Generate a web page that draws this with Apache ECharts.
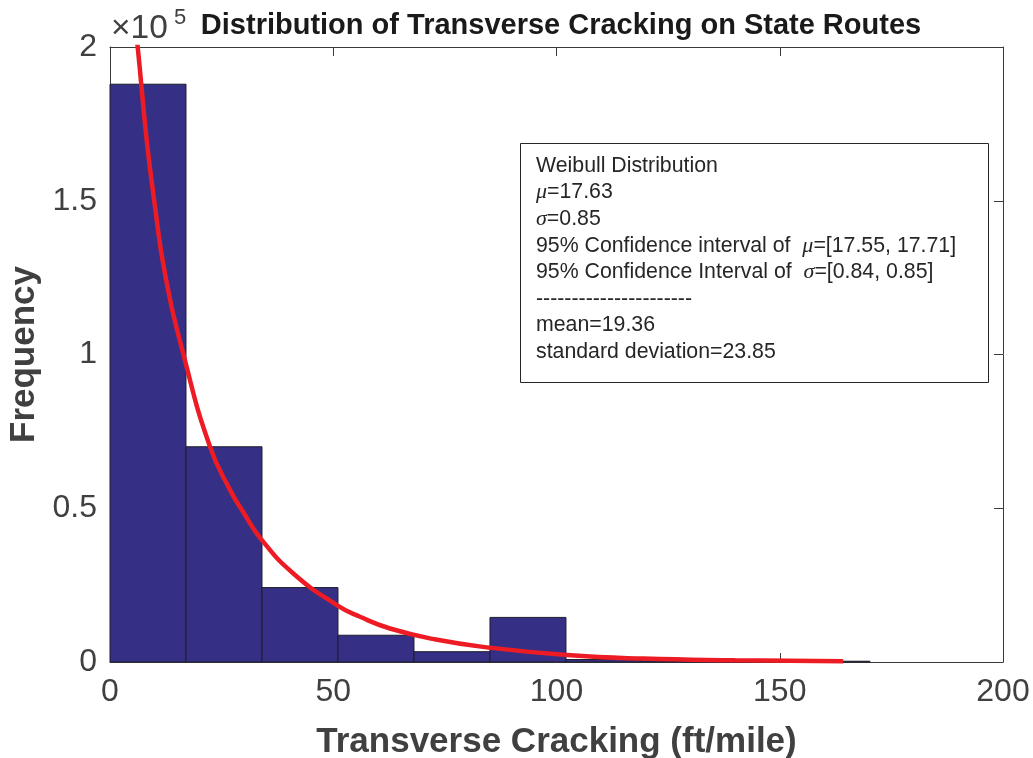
<!DOCTYPE html>
<html>
<head>
<meta charset="utf-8">
<title>Distribution of Transverse Cracking on State Routes</title>
<script src="https://cdn.jsdelivr.net/npm/echarts@6/dist/echarts.min.js"></script>
<style>
  html, body { margin: 0; padding: 0; background: #ffffff; }
  #chart { width: 1033px; height: 758px; }
</style>
</head>
<body>
<div id="chart"></div>
<script>
// Histogram bins (ft/mile) and the counts that fall in each bin
const binEdges = [0, 17.02, 34.04, 51.06, 68.08, 85.10, 102.12, 119.14, 136.16, 153.18, 170.2];
const binCounts = [187900, 70000, 24200, 8700, 3350, 14500, 800, 400, 150, 250];

// Fitted Weibull curve, scaled to the histogram counts
const fitX = [5.5, 6.2, 8.21, 10.08, 12.3, 16.57, 22.4, 26.9, 30, 33.98, 41.05, 50.8, 56, 62.7, 73, 85.1, 102.3, 119.4, 140, 164.2];
const fitY = [208000, 200000, 169800, 148100, 126400, 99300, 70000, 55900, 48400, 39700, 28800, 18500, 14700, 10900, 7300, 4650, 2280, 1100, 550, 250];

// Axis ticks
const xTicks = [0, 50, 100, 150, 200];
const yTicks = [0, 50000, 100000, 150000, 200000];

// Lines of the fit summary box: [prefix, greek symbol, suffix]
const summaryLines = [
  ['Weibull Distribution', '', ''],
  ['', 'μ', '=17.63'],
  ['', 'σ', '=0.85'],
  ['95% Confidence interval of  ', 'μ', '=[17.55, 17.71]'],
  ['95% Confidence Interval of  ', 'σ', '=[0.84, 0.85]'],
  ['----------------------', '', ''],
  ['mean=19.36', '', ''],
  ['standard deviation=23.85', '', '']
];

const FONT = '"Liberation Sans", Arial, Helvetica, sans-serif';
const AXIS_COLOR = '#3a3a3a';
const TEXT_COLOR = '#404040';

const histData = binCounts.map((c, i) => [binEdges[i], binEdges[i + 1], c]);
const fitData = fitX.map((x, i) => [x, fitY[i]]);

const grid = { left: 110, right: 30, top: 47, bottom: 96, containLabel: false, outerBoundsMode: 'none' };

function richLine(parts) {
  let s = '';
  if (parts[0]) s += '{n|' + parts[0] + '}';
  if (parts[1]) s += '{g|' + parts[1] + '}';
  if (parts[2]) s += '{n|' + parts[2] + '}';
  return s;
}

const boxLeft = 520, boxTop = 143, boxW = 468, boxH = 239;
const lineGap = 26.6;

const graphics = [
  {
    type: 'rect',
    shape: { x: boxLeft + 0.5, y: boxTop + 0.5, width: boxW, height: boxH },
    style: { fill: '#ffffff', stroke: '#262626', lineWidth: 1 },
    z: 10
  },
  // axis exponent: ×10^5
  {
    type: 'text',
    x: 111, y: 29,
    style: { text: '×10', fontFamily: FONT, fontSize: 33.5, fill: TEXT_COLOR, verticalAlign: 'middle' },
    z: 10
  },
  {
    type: 'text',
    x: 174, y: 18,
    style: { text: '5', fontFamily: FONT, fontSize: 22, fill: TEXT_COLOR, verticalAlign: 'middle' },
    z: 10
  }
];

summaryLines.forEach((parts, i) => {
  graphics.push({
    type: 'text',
    x: 536,
    y: 166 + i * lineGap,
    style: {
      text: richLine(parts),
      verticalAlign: 'middle',
      rich: {
        n: { fontFamily: FONT, fontSize: 21.3, fill: '#262626' },
        g: { fontFamily: '"Liberation Serif", "DejaVu Serif", serif', fontStyle: 'italic', fontSize: 22, fill: '#262626' }
      }
    },
    z: 11
  });
});

const option = {
  animation: false,
  backgroundColor: '#ffffff',
  title: {
    text: 'Distribution of Transverse Cracking on State Routes',
    left: 556, top: 6, textAlign: 'center',
    textStyle: { fontFamily: FONT, fontWeight: 'bold', fontSize: 29, color: '#1a1a1a' }
  },
  grid: grid,
  xAxis: [
    {
      type: 'value', min: xTicks[0], max: xTicks[xTicks.length - 1], interval: 50,
      position: 'bottom',
      name: 'Transverse Cracking (ft/mile)', nameLocation: 'middle', nameGap: 63,
      nameTextStyle: { fontFamily: FONT, fontWeight: 'bold', fontSize: 35, color: TEXT_COLOR },
      axisLine: { show: true, lineStyle: { color: AXIS_COLOR, width: 1 } },
      axisTick: { show: true, inside: true, length: 9, lineStyle: { color: AXIS_COLOR } },
      axisLabel: { fontFamily: FONT, fontSize: 32, color: TEXT_COLOR, margin: 14 },
      splitLine: { show: false }
    },
    {
      type: 'value', min: xTicks[0], max: xTicks[xTicks.length - 1], interval: 50,
      position: 'top',
      axisLine: { show: true, onZero: false, lineStyle: { color: AXIS_COLOR, width: 1 } },
      axisTick: { show: true, inside: true, length: 9, lineStyle: { color: AXIS_COLOR } },
      axisLabel: { show: false },
      splitLine: { show: false }
    }
  ],
  yAxis: [
    {
      type: 'value', min: yTicks[0], max: yTicks[yTicks.length - 1], interval: 50000,
      position: 'left',
      name: 'Frequency', nameLocation: 'middle', nameGap: 66,
      nameTextStyle: { fontFamily: FONT, fontWeight: 'bold', fontSize: 35, color: TEXT_COLOR },
      axisLine: { show: true, lineStyle: { color: AXIS_COLOR, width: 1 } },
      axisTick: { show: true, inside: true, length: 9, lineStyle: { color: AXIS_COLOR } },
      axisLabel: {
        fontFamily: FONT, fontSize: 32, color: TEXT_COLOR, margin: 13,
        formatter: v => String(v / 100000)
      },
      splitLine: { show: false }
    },
    {
      type: 'value', min: yTicks[0], max: yTicks[yTicks.length - 1], interval: 50000,
      position: 'right',
      axisLine: { show: true, onZero: false, lineStyle: { color: AXIS_COLOR, width: 1 } },
      axisTick: { show: true, inside: true, length: 9, lineStyle: { color: AXIS_COLOR } },
      axisLabel: { show: false },
      splitLine: { show: false }
    }
  ],
  series: [
    {
      name: 'Histogram',
      type: 'custom',
      xAxisIndex: 0, yAxisIndex: 0,
      data: histData,
      encode: { x: [0, 1], y: 2 },
      renderItem: function (params, api) {
        const topLeft = api.coord([api.value(0), api.value(2)]);
        const bottomRight = api.coord([api.value(1), 0]);
        return {
          type: 'rect',
          shape: {
            x: topLeft[0], y: topLeft[1],
            width: bottomRight[0] - topLeft[0],
            height: bottomRight[1] - topLeft[1]
          },
          style: { fill: '#352f85', stroke: '#1e1e2a', lineWidth: 1 }
        };
      },
      z: 2
    },
    {
      name: 'Weibull fit',
      type: 'line',
      xAxisIndex: 0, yAxisIndex: 0,
      data: fitData,
      smooth: 0.5,
      showSymbol: false,
      clip: true,
      lineStyle: { color: '#ed1c24', width: 4.5 },
      z: 3
    }
  ],
  graphic: graphics
};

const chart = echarts.init(document.getElementById('chart'), null, { renderer: 'canvas' });
chart.setOption(option);
</script>
</body>
</html>
